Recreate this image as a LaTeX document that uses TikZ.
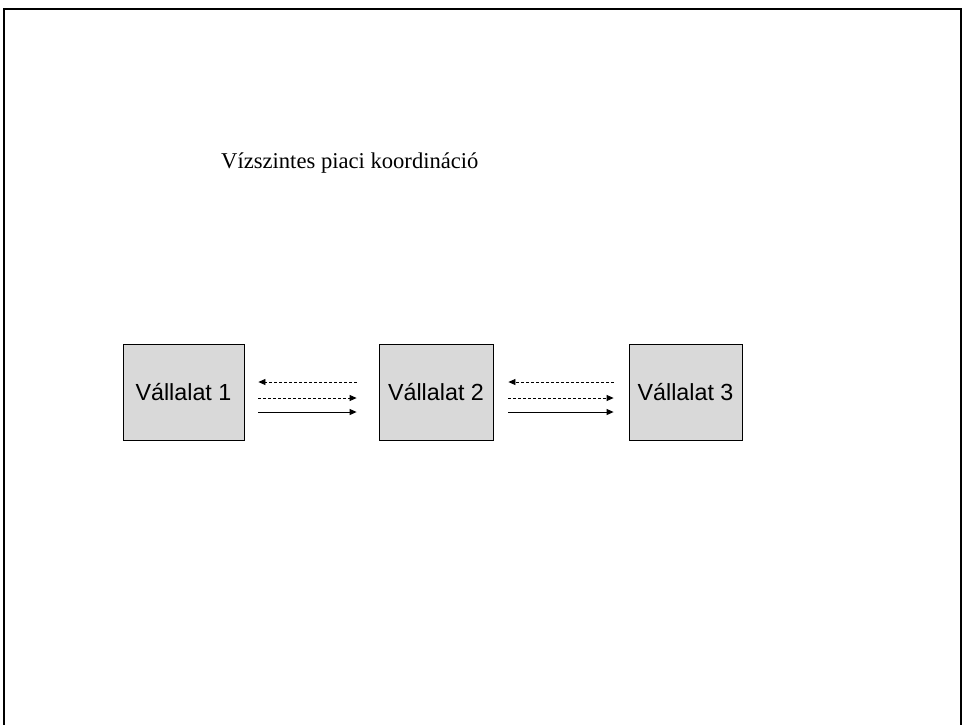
\documentclass[tikz,border=0pt]{standalone}
\usepackage{fontspec}
\setmainfont{Liberation Serif}
\newfontfamily\boxfont{Liberation Sans}
\usetikzlibrary{arrows.meta,positioning,calc}
\definecolor{boxgrey}{HTML}{D9D9D9}

\tikzset{
    firm/.style={draw, fill=boxgrey, line width=0.8pt, minimum height=96pt,
        inner sep=0pt, font=\boxfont\fontsize{23.3}{26}\selectfont},
    flowdash/.style={-{Triangle[length=7pt,width=6pt]}, line width=0.8pt, dash pattern=on 3pt off 2pt},
    flowsolid/.style={-{Triangle[length=7pt,width=6pt]}, line width=0.9pt}
}

\begin{document}
\begin{tikzpicture}[x=1pt, y=-1pt]
    \useasboundingbox (0,0) rectangle (964,724);
    % Frame
    \draw[line width=2pt] (4,9) rectangle (961,740);

    % Title
    \node[anchor=base west, inner sep=0pt, font=\fontsize{22.6}{26}\selectfont] (title) at (221,168) {Vízszintes piaci koordináció};

    % Firms
    \node[firm, minimum width=121pt] (v1) at (183.5,392) {Vállalat 1};
    \node[firm, minimum width=114pt] (v2) at (436,392) {Vállalat 2};
    \node[firm, minimum width=113pt] (v3) at (685.5,392) {Vállalat 3};

    % Flows 1 <-> 2
    \draw[flowdash] ([xshift=-22pt,yshift=10pt]v2.west) -- ([xshift=14pt,yshift=10pt]v1.east);
    \draw[flowdash] ([xshift=14pt,yshift=-6pt]v1.east) -- ([xshift=-22pt,yshift=-6pt]v2.west);
    \draw[flowsolid] ([xshift=14pt,yshift=-20pt]v1.east) -- ([xshift=-22pt,yshift=-20pt]v2.west);

    % Flows 2 <-> 3
    \draw[flowdash] ([xshift=-15pt,yshift=10pt]v3.west) -- ([xshift=15pt,yshift=10pt]v2.east);
    \draw[flowdash] ([xshift=15pt,yshift=-6pt]v2.east) -- ([xshift=-15pt,yshift=-6pt]v3.west);
    \draw[flowsolid] ([xshift=15pt,yshift=-20pt]v2.east) -- ([xshift=-15pt,yshift=-20pt]v3.west);
\end{tikzpicture}
\end{document}
